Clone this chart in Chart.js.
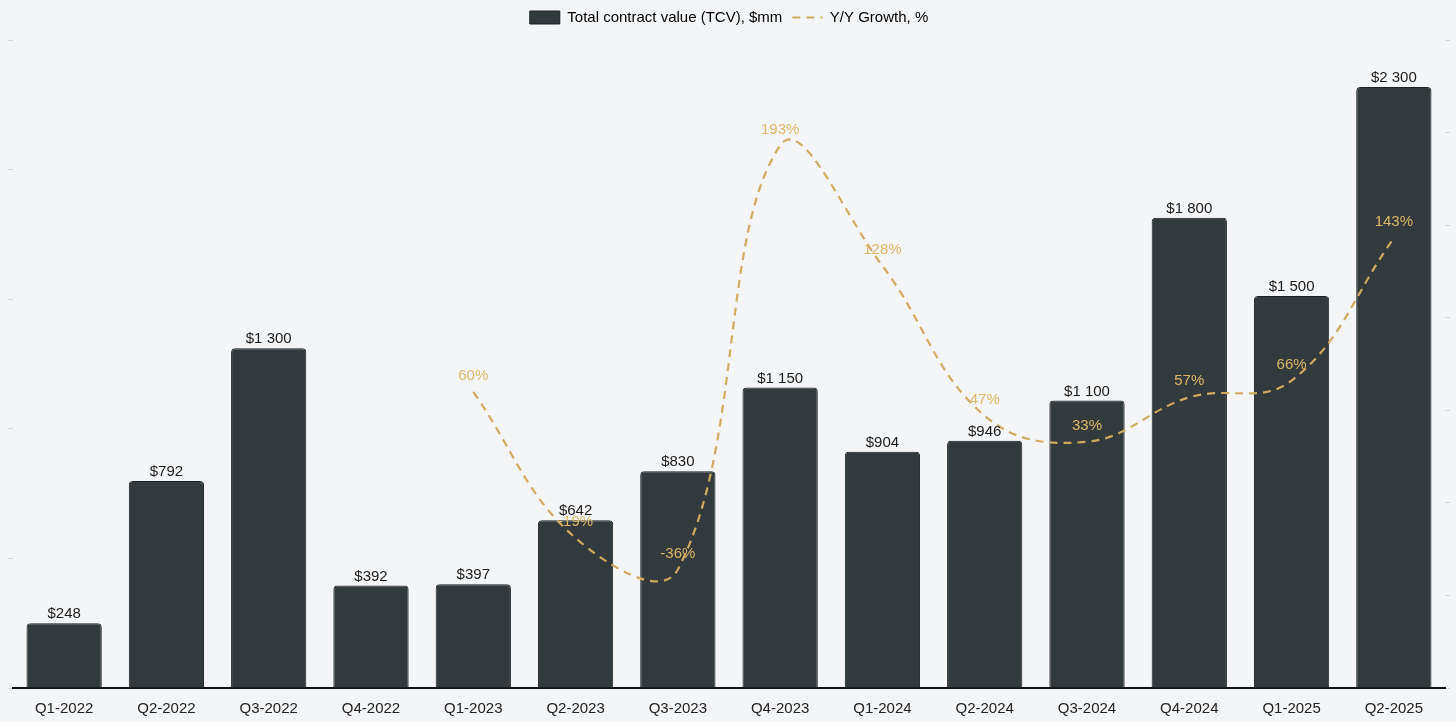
<!DOCTYPE html>
<html>
<head>
<meta charset="utf-8">
<title>TCV and Y/Y growth</title>
<script src="https://cdn.jsdelivr.net/npm/chart.js@4/dist/chart.umd.min.js"></script>
<style>
  html, body { margin: 0; padding: 0; background: #f4f5f7; }
  #wrap { width: 1456px; height: 722px; position: relative; }
</style>
</head>
<body>
<div id="wrap"><canvas id="tcvChart"></canvas></div>
<script>
// Chart data
const quarters = ['Q1-2022', 'Q2-2022', 'Q3-2022', 'Q4-2022', 'Q1-2023', 'Q2-2023', 'Q3-2023',
  'Q4-2023', 'Q1-2024', 'Q2-2024', 'Q3-2024', 'Q4-2024', 'Q1-2025', 'Q2-2025'];
const tcv = [248, 792, 1300, 392, 397, 642, 830, 1150, 904, 946, 1100, 1800, 1500, 2300];
const growth = [null, null, null, null, 60, -19, -36, 193, 128, 47, 33, 57, 66, 143];
const tcvLabel = 'Total contract value (TCV), $mm';
const growthLabel = 'Y/Y Growth, %';

const barColor = '#323a3d';
const barEdge = '#1c2123';
const gold = '#d0aa5e';
const goldText = '#dcb766';
const tickGrey = '#d3d5d8';

Chart.defaults.font.family = '"Liberation Sans", Arial, Helvetica, sans-serif';
Chart.defaults.font.size = 15;
Chart.defaults.color = '#222';

// "$1 300" style
function money(v) {
  return '$' + String(v).replace(/\B(?=(\d{3})+(?!\d))/g, ' ');
}

// Value labels over bars and line points
const valueLabels = {
  id: 'valueLabels',
  afterDatasetsDraw(chart) {
    const ctx = chart.ctx;
    ctx.save();
    ctx.font = '15px "Liberation Sans", Arial, sans-serif';
    ctx.textAlign = 'center';
    ctx.textBaseline = 'alphabetic';
    ctx.fillStyle = '#1b1b1b';
    chart.getDatasetMeta(0).data.forEach((bar, i) => {
      ctx.fillText(money(tcv[i]), bar.x, bar.y - 5);
    });
    ctx.textBaseline = 'middle';
    ctx.fillStyle = goldText;
    chart.getDatasetMeta(1).data.forEach((pt, i) => {
      if (growth[i] === null) return;
      ctx.fillText(growth[i] + '%', pt.x, pt.y - 16);
    });
    ctx.restore();
  }
};

// a little room under the legend
const legendGap = {
  id: 'legendGap',
  beforeInit(chart) {
    const fit = chart.legend.fit;
    chart.legend.fit = function () {
      fit.bind(chart.legend)();
      this.height += 5;
    };
  }
};

const ctx = document.getElementById('tcvChart').getContext('2d');

const tcvChart = new Chart(ctx, {
  type: 'bar',
  data: {
    labels: quarters,
    datasets: [
      {
        type: 'bar',
        label: tcvLabel,
        data: tcv,
        backgroundColor: barColor,
        borderColor: barEdge,
        borderWidth: 1,
        borderRadius: 4,
        borderSkipped: 'bottom',
        barPercentage: 0.92,
        categoryPercentage: 0.8,
        yAxisID: 'y',
        order: 2
      },
      {
        type: 'line',
        label: growthLabel,
        data: growth,
        borderColor: gold,
        borderWidth: 2.2,
        borderDash: [8, 6],
        tension: 0.4,
        pointRadius: 0,
        pointHoverRadius: 0,
        fill: false,
        yAxisID: 'y1',
        order: 1
      }
    ]
  },
  options: {
    responsive: true,
    maintainAspectRatio: false,
    animation: false,
    layout: { padding: { left: 8, right: 6, top: 0, bottom: 0 } },
    scales: {
      x: {
        grid: { display: false, drawTicks: false },
        border: { display: true, color: '#111', width: 2 },
        ticks: { color: '#222', padding: 12, font: { size: 15 }, maxRotation: 0 },
        afterFit(scale) { scale.height = 34; }
      },
      y: {
        position: 'left',
        min: 0,
        max: 2480,
        ticks: { display: false, stepSize: 496 },
        grid: { drawOnChartArea: false, drawTicks: true, tickLength: 5, color: tickGrey },
        border: { display: false }
      },
      y1: {
        position: 'right',
        min: -100,
        max: 250,
        ticks: { display: false, stepSize: 50 },
        grid: { drawOnChartArea: false, drawTicks: true, tickLength: 5, color: tickGrey },
        border: { display: false }
      }
    },
    plugins: {
      tooltip: { enabled: false },
      legend: {
        position: 'top',
        labels: {
          color: '#222',
          font: { size: 15 },
          padding: 10,
          usePointStyle: true,
          pointStyleWidth: 30,
          boxHeight: 13,
          generateLabels: () => [
            {
              text: tcvLabel,
              fillStyle: barColor,
              strokeStyle: barEdge,
              lineWidth: 1,
              pointStyle: 'rect',
              datasetIndex: 0
            },
            {
              text: growthLabel,
              fillStyle: 'rgba(0,0,0,0)',
              strokeStyle: gold,
              lineWidth: 2.2,
              lineDash: [8, 6],
              pointStyle: 'line',
              datasetIndex: 1
            }
          ]
        }
      }
    }
  },
  plugins: [valueLabels, legendGap]
});
</script>
</body>
</html>
